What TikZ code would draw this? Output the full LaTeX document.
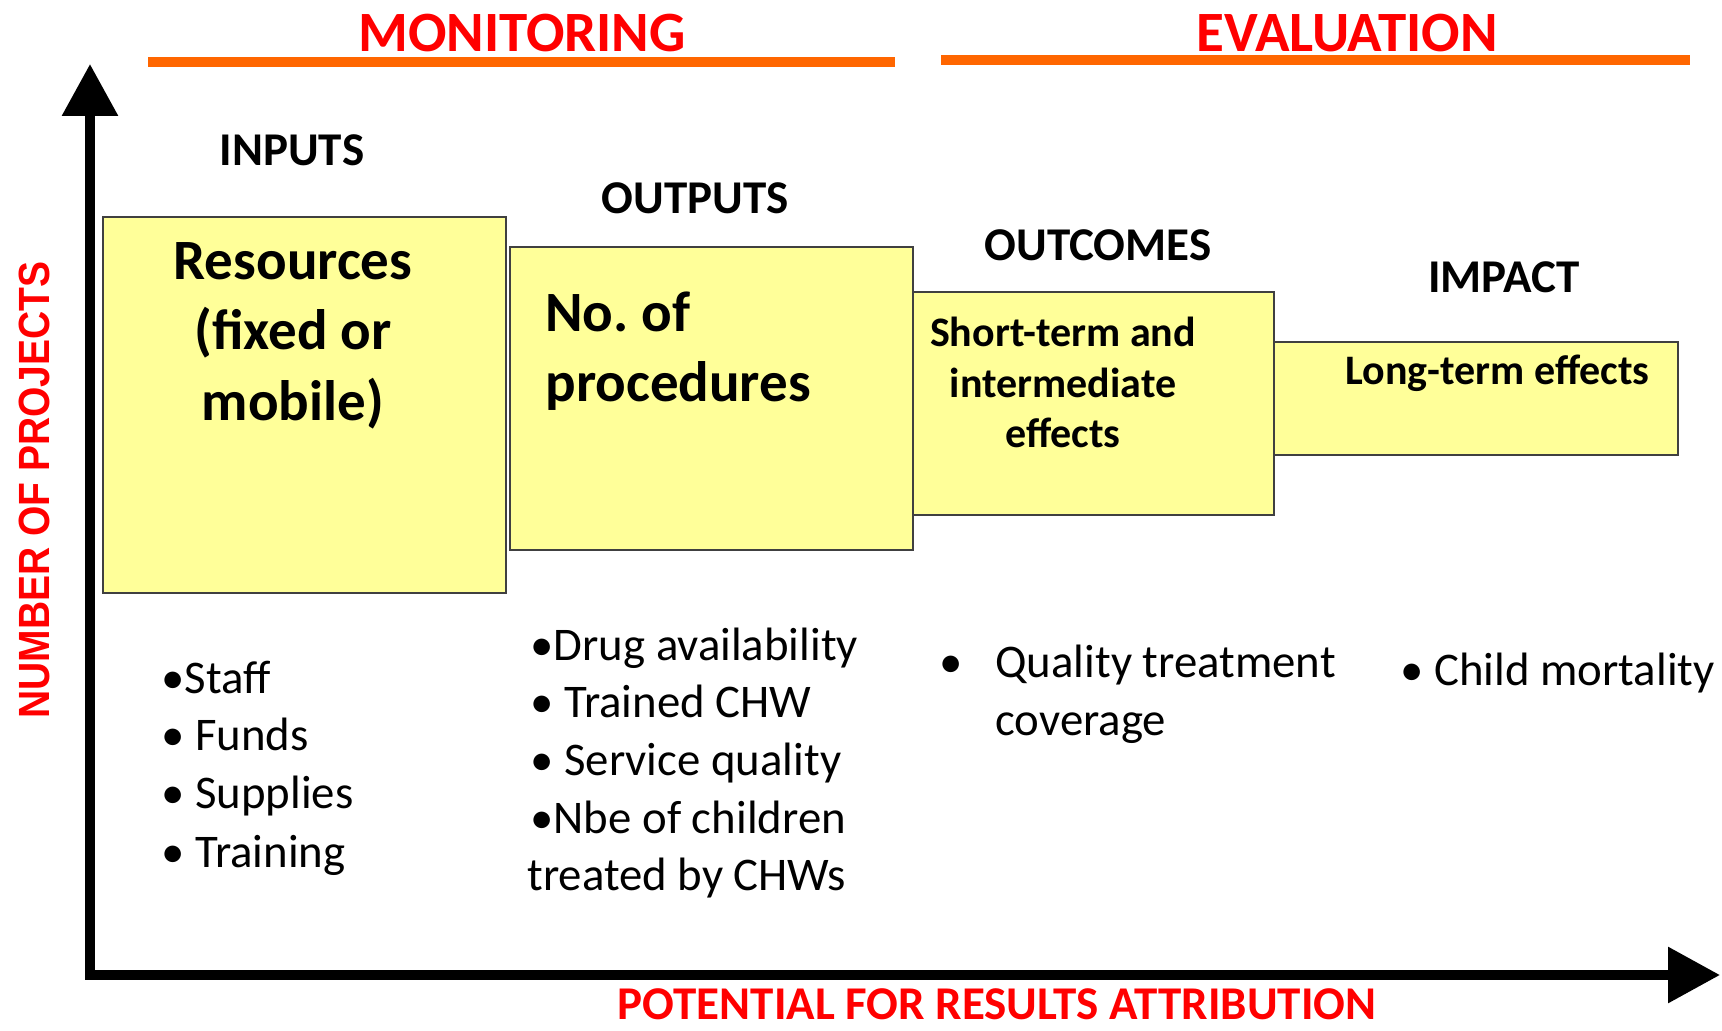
\documentclass[tikz,border=0pt]{standalone}
\usepackage{fontspec}
\setmainfont{Carlito}
\newfontfamily\axisfont{Liberation Sans}
\usetikzlibrary{arrows.meta}

\definecolor{titlered}{HTML}{FF0000}
\definecolor{barorange}{HTML}{FF6600}
\definecolor{boxyellow}{HTML}{FFFF99}
\definecolor{boxline}{HTML}{404040}

\begin{document}
\frenchspacing
\begin{tikzpicture}[x=0.5pt, y=-0.5pt]

\tikzstyle{phase} = [anchor=base, inner sep=0pt, text=titlered, font=\bfseries\fontsize{28.5}{34}\selectfont]
\tikzstyle{phasebar} = [fill=barorange]
\tikzstyle{stage} = [anchor=base, inner sep=0pt, font=\bfseries\fontsize{23.5}{28}\selectfont]
\tikzstyle{stagebox} = [rectangle, anchor=north west, draw=boxline, line width=0.8pt, fill=boxyellow, inner sep=0pt]
\tikzstyle{boxbig} = [anchor=base, inner sep=0pt, font=\bfseries\fontsize{28.5}{34}\selectfont]
\tikzstyle{boxmid} = [anchor=base, inner sep=0pt, font=\bfseries\fontsize{21}{25}\selectfont]
\tikzstyle{listitem} = [anchor=base west, inner sep=0pt, font=\fontsize{23.4}{28}\selectfont]
\tikzstyle{axisline} = [line width=4.75pt, {Triangle[length=26pt,width=27pt]}-{Triangle[length=26pt,width=27pt]}]

\useasboundingbox (0,0) rectangle (1722,1031);

% monitoring / evaluation
\node[phase] (mon) at (522, 52) {MONITORING};
\node[phase] (eval) at (1347, 52) {EVALUATION};
\fill[phasebar] (148, 57) rectangle (895, 67);
\fill[phasebar] (941, 55) rectangle (1690, 65);

% stages
\node[stage] (inputs) at (292, 166) {INPUTS};
\node[stage] (outputs) at (695, 214) {OUTPUTS};
\node[stage] (outcomes) at (1098, 261) {OUTCOMES};
\node[stage] (impact) at (1504, 293) {IMPACT};

\node[stagebox, minimum width=201.5pt, minimum height=188pt] (res) at (102, 216) {};
\node[stagebox, minimum width=201.5pt, minimum height=151.5pt] (proc) at (509, 246) {};
\node[stagebox, minimum width=180.5pt, minimum height=111.5pt] (short) at (912, 291) {};
\node[stagebox, minimum width=202pt, minimum height=56.5pt] (long) at (1273, 341) {};

\node[boxbig] (res1) at (293, 280) {Resources};
\node[boxbig] (res2) at (293, 350) {(fixed or};
\node[boxbig] (res3) at (293, 421) {mobile)};

\node[boxbig, anchor=base west] (proc1) at (545, 332) {No. of};
\node[boxbig, anchor=base west] (proc2) at (545, 402) {procedures};

\node[boxmid] (short1) at (1063, 347) {Short-term and};
\node[boxmid] (short2) at (1063, 398) {intermediate};
\node[boxmid] (short3) at (1063, 448) {effects};

\node[boxmid, anchor=base west] (long1) at (1345, 385) {Long-term effects};

% indicators
\node[listitem] (in1) at (161, 693) {•Staff};
\node[listitem] (in2) at (161, 750) {• Funds};
\node[listitem] (in3) at (161, 808) {• Supplies};
\node[listitem] (in4) at (161, 867) {• Training};

\node[listitem] (out1) at (530, 660) {•Drug availability};
\node[listitem] (out2) at (530, 717) {• Trained CHW};
\node[listitem] (out3) at (530, 775) {• Service quality};
\node[listitem] (out4) at (530, 833) {•Nbe of children};
\node[listitem] (out5) at (527, 890) {treated by CHWs};

\node[listitem] (oc0) at (939, 677) {•};
\node[listitem] (oc1) at (995, 677) {Quality treatment};
\node[listitem] (oc2) at (995, 735) {coverage};

\node[listitem] (im1) at (1400, 685) {• Child mortality};

% axes
\coordinate (origin) at (90, 975);
\coordinate (ytop) at (90, 64);
\coordinate (xend) at (1720, 975);
\draw[axisline] (ytop) -- (origin) -- (xend);

\node[rotate=90, yscale=1.12, text=titlered, font=\axisfont\bfseries\fontsize{19.5}{24}\selectfont] (ylabel) at (34, 490) {NUMBER OF PROJECTS};
\node[phase, font=\bfseries\fontsize{23.5}{28}\selectfont] (xlabel) at (997, 1019) {POTENTIAL FOR RESULTS ATTRIBUTION};

\end{tikzpicture}
\end{document}
